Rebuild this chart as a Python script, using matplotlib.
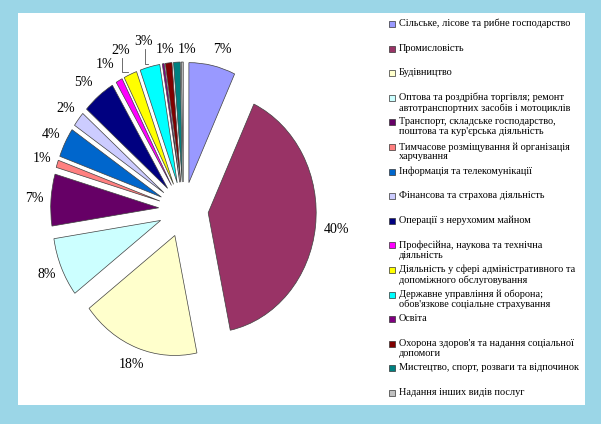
import matplotlib.pyplot as plt
from matplotlib.patches import Rectangle
import numpy as np

# sectors of the economy (legend order = slice order, clockwise from 12 o'clock)
sectors = [
    "Сільське, лісове та рибне господарство",
    "Промисловість",
    "Будівництво",
    "Оптова та роздрібна торгівля; ремонт\nавтотранспортних засобів і мотоциклів",
    "Транспорт, складське господарство,\nпоштова та кур'єрська діяльність",
    "Тимчасове розміщування й організація\nхарчування",
    "Інформація та телекомунікації",
    "Фінансова та страхова діяльність",
    "Операції з нерухомим майном",
    "Професійна, наукова та технічна\nдіяльність",
    "Діяльність у сфері адміністративного та\nдопоміжного обслуговування",
    "Державне управління й оборона;\nобов'язкове соціальне страхування",
    "Освіта",
    "Охорона здоров'я та надання соціальної\nдопомоги",
    "Мистецтво, спорт, розваги та відпочинок",
    "Надання інших видів послуг",
]
shares = [7, 40, 18, 8, 7, 1, 4, 2, 5, 1, 2, 3, 0.3, 1, 1, 0.3]
pct_labels = ["7%", "40%", "18%", "8%", "7%", "1%", "4%", "2%", "5%", "1%",
              "2%", "3%", "", "1%", "1%", ""]
colors = ["#9999FF", "#993366", "#FFFFCC", "#CCFFFF", "#660066", "#FF8080",
          "#0066CC", "#CCCCFF", "#000080", "#FF00FF", "#FFFF00", "#00FFFF",
          "#800080", "#800000", "#008080", "#C0C0C0"]

plt.rcParams['font.family'] = ['Liberation Serif', 'DejaVu Serif']

W, H = 601, 424
fig = plt.figure(figsize=(W / 100, H / 100), dpi=100)
fig.patch.set_facecolor("#9BD6E7")
fig.patches.append(Rectangle((18 / W, 1 - 405 / H), (585 - 18) / W, (405 - 13) / H,
                             transform=fig.transFigure, facecolor="white",
                             edgecolor="none", zorder=-5))

ax = fig.add_axes([0, 0, 1, 1])
ax.patch.set_alpha(0)
ax.set_zorder(2)
wedges, texts = ax.pie(shares, labels=pct_labels, colors=colors,
                       startangle=90, counterclock=False,
                       explode=[0.23] * len(shares), labeldistance=1.15,
                       wedgeprops=dict(edgecolor="#404040", linewidth=0.5),
                       textprops=dict(fontsize=10))

# pie in the original is a bit squashed horizontally
cx, cy, rx, ry = 183.5, 209.6, 108.0, 120.0
ax.set_aspect("auto")
ax.set_xlim(-cx / rx, (W - cx) / rx)
ax.set_ylim((cy - H) / ry, cy / ry)
ax.axis("off")

# Excel nudged the crowded labels a bit (pixels, right / down)
nudge = {0: (7, 2), 1: (5, 1), 8: (-5, 0), 9: (-6, 0), 10: (-3, -7),
         11: (-2, -8), 13: (-2, 4), 14: (11, 5)}
for i, t in enumerate(texts):
    t.set_ha("center")
    t.set_va("center")
    if i in nudge:
        x, y = t.get_position()
        dx, dy = nudge[i]
        t.set_position((x + dx / rx, y - dy / ry))

# leader lines for the two labels that were pulled away
for i in (10, 11):
    w = wedges[i]
    mid = np.deg2rad((w.theta1 + w.theta2) / 2)
    ex, ey = w.center[0] + w.r * np.cos(mid), w.center[1] + w.r * np.sin(mid)
    tx, ty = texts[i].get_position()
    ax.plot([tx + 0.01, tx + 0.01, ex - 0.02], [ty - 0.06, ey + 0.02, ey + 0.02],
            color="#555555", lw=0.6)

# legend on the right
for i, (name, c) in enumerate(zip(sectors, colors)):
    y = 24 + i * 24.6
    fig.patches.append(Rectangle((389 / W, 1 - (y + 3) / H), 6 / W, 6 / H,
                                 transform=fig.transFigure, facecolor=c,
                                 edgecolor="#333333", linewidth=0.5))
    fig.text(399 / W, 1 - (y - 5) / H, name, fontsize=7.4, va="top", ha="left",
             linespacing=1.1)

plt.savefig("out.png", dpi=100, facecolor=fig.get_facecolor())
